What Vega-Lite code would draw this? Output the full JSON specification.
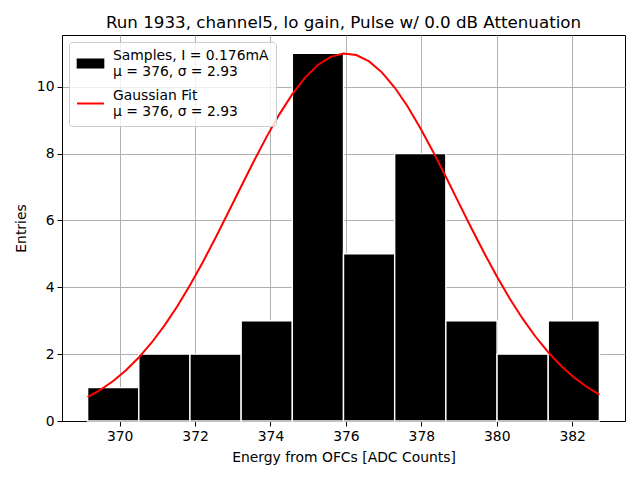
{
  "$schema": "https://vega.github.io/schema/vega-lite/v6.json",
  "autosize": "none",
  "width": 563,
  "height": 386,
  "padding": {"left": 62, "top": 35, "right": 15, "bottom": 59},
  "title": {
    "text": "Run 1933, channel5, lo gain, Pulse w/ 0.0 dB Attenuation",
    "font": "DejaVu Sans",
    "fontSize": 16.7,
    "fontWeight": "normal",
    "color": "black",
    "anchor": "middle",
    "offset": 3
  },
  "datasets": {
    "bars": [
      {"lo": 369.150, "hi": 370.507, "count": 1, "series": "Samples, I = 0.176mA|μ = 376, σ = 2.93"},
      {"lo": 370.507, "hi": 371.864, "count": 2, "series": "Samples, I = 0.176mA|μ = 376, σ = 2.93"},
      {"lo": 371.864, "hi": 373.222, "count": 2, "series": "Samples, I = 0.176mA|μ = 376, σ = 2.93"},
      {"lo": 373.222, "hi": 374.579, "count": 3, "series": "Samples, I = 0.176mA|μ = 376, σ = 2.93"},
      {"lo": 374.579, "hi": 375.936, "count": 11, "series": "Samples, I = 0.176mA|μ = 376, σ = 2.93"},
      {"lo": 375.936, "hi": 377.293, "count": 5, "series": "Samples, I = 0.176mA|μ = 376, σ = 2.93"},
      {"lo": 377.293, "hi": 378.650, "count": 8, "series": "Samples, I = 0.176mA|μ = 376, σ = 2.93"},
      {"lo": 378.650, "hi": 380.008, "count": 3, "series": "Samples, I = 0.176mA|μ = 376, σ = 2.93"},
      {"lo": 380.008, "hi": 381.365, "count": 2, "series": "Samples, I = 0.176mA|μ = 376, σ = 2.93"},
      {"lo": 381.365, "hi": 382.722, "count": 3, "series": "Samples, I = 0.176mA|μ = 376, σ = 2.93"}
    ],
    "fit": [
      {"x": 369.150, "y": 0.715, "series": "Gaussian Fit|μ = 376, σ = 2.93"},
      {"x": 369.489, "y": 0.932, "series": "Gaussian Fit|μ = 376, σ = 2.93"},
      {"x": 369.829, "y": 1.197, "series": "Gaussian Fit|μ = 376, σ = 2.93"},
      {"x": 370.168, "y": 1.517, "series": "Gaussian Fit|μ = 376, σ = 2.93"},
      {"x": 370.507, "y": 1.898, "series": "Gaussian Fit|μ = 376, σ = 2.93"},
      {"x": 370.846, "y": 2.342, "series": "Gaussian Fit|μ = 376, σ = 2.93"},
      {"x": 371.186, "y": 2.853, "series": "Gaussian Fit|μ = 376, σ = 2.93"},
      {"x": 371.525, "y": 3.427, "series": "Gaussian Fit|μ = 376, σ = 2.93"},
      {"x": 371.864, "y": 4.061, "series": "Gaussian Fit|μ = 376, σ = 2.93"},
      {"x": 372.204, "y": 4.752, "series": "Gaussian Fit|μ = 376, σ = 2.93"},
      {"x": 372.543, "y": 5.485, "series": "Gaussian Fit|μ = 376, σ = 2.93"},
      {"x": 372.882, "y": 6.245, "series": "Gaussian Fit|μ = 376, σ = 2.93"},
      {"x": 373.222, "y": 7.018, "series": "Gaussian Fit|μ = 376, σ = 2.93"},
      {"x": 373.561, "y": 7.778, "series": "Gaussian Fit|μ = 376, σ = 2.93"},
      {"x": 373.900, "y": 8.509, "series": "Gaussian Fit|μ = 376, σ = 2.93"},
      {"x": 374.239, "y": 9.183, "series": "Gaussian Fit|μ = 376, σ = 2.93"},
      {"x": 374.579, "y": 9.780, "series": "Gaussian Fit|μ = 376, σ = 2.93"},
      {"x": 374.918, "y": 10.275, "series": "Gaussian Fit|μ = 376, σ = 2.93"},
      {"x": 375.257, "y": 10.652, "series": "Gaussian Fit|μ = 376, σ = 2.93"},
      {"x": 375.597, "y": 10.896, "series": "Gaussian Fit|μ = 376, σ = 2.93"},
      {"x": 375.936, "y": 10.997, "series": "Gaussian Fit|μ = 376, σ = 2.93"},
      {"x": 376.275, "y": 10.952, "series": "Gaussian Fit|μ = 376, σ = 2.93"},
      {"x": 376.615, "y": 10.760, "series": "Gaussian Fit|μ = 376, σ = 2.93"},
      {"x": 376.954, "y": 10.432, "series": "Gaussian Fit|μ = 376, σ = 2.93"},
      {"x": 377.293, "y": 9.979, "series": "Gaussian Fit|μ = 376, σ = 2.93"},
      {"x": 377.633, "y": 9.418, "series": "Gaussian Fit|μ = 376, σ = 2.93"},
      {"x": 377.972, "y": 8.770, "series": "Gaussian Fit|μ = 376, σ = 2.93"},
      {"x": 378.311, "y": 8.059, "series": "Gaussian Fit|μ = 376, σ = 2.93"},
      {"x": 378.650, "y": 7.307, "series": "Gaussian Fit|μ = 376, σ = 2.93"},
      {"x": 378.990, "y": 6.535, "series": "Gaussian Fit|μ = 376, σ = 2.93"},
      {"x": 379.329, "y": 5.768, "series": "Gaussian Fit|μ = 376, σ = 2.93"},
      {"x": 379.668, "y": 5.025, "series": "Gaussian Fit|μ = 376, σ = 2.93"},
      {"x": 380.008, "y": 4.316, "series": "Gaussian Fit|μ = 376, σ = 2.93"},
      {"x": 380.347, "y": 3.660, "series": "Gaussian Fit|μ = 376, σ = 2.93"},
      {"x": 380.686, "y": 3.062, "series": "Gaussian Fit|μ = 376, σ = 2.93"},
      {"x": 381.025, "y": 2.528, "series": "Gaussian Fit|μ = 376, σ = 2.93"},
      {"x": 381.365, "y": 2.058, "series": "Gaussian Fit|μ = 376, σ = 2.93"},
      {"x": 381.704, "y": 1.653, "series": "Gaussian Fit|μ = 376, σ = 2.93"},
      {"x": 382.043, "y": 1.311, "series": "Gaussian Fit|μ = 376, σ = 2.93"},
      {"x": 382.383, "y": 1.025, "series": "Gaussian Fit|μ = 376, σ = 2.93"},
      {"x": 382.722, "y": 0.792, "series": "Gaussian Fit|μ = 376, σ = 2.93"}
    ]
  },
  "encoding": {
    "color": {
      "field": "series",
      "type": "nominal",
      "scale": {
        "domain": ["Samples, I = 0.176mA|μ = 376, σ = 2.93", "Gaussian Fit|μ = 376, σ = 2.93"],
        "range": ["black", "red"]
      },
      "legend": {
        "title": null,
        "orient": "top-left",
        "offset": 7,
        "padding": 7,
        "fillColor": "rgba(255,255,255,0.8)",
        "strokeColor": "#cccccc",
        "cornerRadius": 3,
        "symbolSize": 729,
        "labelOffset": 8,
        "labelFont": "DejaVu Sans",
        "labelFontSize": 13.9,
        "labelColor": "black",
        "labelLimit": 400,
        "rowPadding": 9,
        "labelExpr": "split(datum.label, '|')",
        "encode": {
          "labels": {"update": {"lineHeight": {"value": 16}, "dy": {"value": -8}}},
          "symbols": {
            "update": {
              "shape": {"signal": "indexof(datum.value, 'Gaussian') >= 0 ? 'M-1,0H1' : 'M-0.95,-0.3H0.95V0.3H-0.95Z'"},
              "fill": {"signal": "indexof(datum.value, 'Gaussian') >= 0 ? 'transparent' : 'black'"},
              "stroke": {"signal": "indexof(datum.value, 'Gaussian') >= 0 ? 'red' : 'black'"},
              "strokeWidth": {"value": 2},
              "opacity": {"value": 1}
            }
          }
        }
      }
    }
  },
  "layer": [
    {
      "data": {"name": "bars"},
      "mark": {"type": "bar", "stroke": "white", "strokeWidth": 1.4},
      "encoding": {
        "x": {"field": "lo", "type": "quantitative"},
        "x2": {"field": "hi"},
        "y": {"field": "count", "type": "quantitative"},
        "y2": {"datum": 0}
      }
    },
    {
      "data": {"name": "fit"},
      "mark": {"type": "line", "strokeWidth": 2},
      "encoding": {
        "x": {
          "field": "x",
          "type": "quantitative",
          "title": "Energy from OFCs [ADC Counts]",
          "scale": {"domain": [368.471, 383.401], "nice": false, "zero": false},
          "axis": {"values": [370, 372, 374, 376, 378, 380, 382]}
        },
        "y": {
          "field": "y",
          "type": "quantitative",
          "title": "Entries",
          "scale": {"domain": [0, 11.55], "nice": false},
          "axis": {"values": [0, 2, 4, 6, 8, 10]}
        }
      }
    }
  ],
  "config": {
    "view": {"stroke": "black", "strokeWidth": 1},
    "axis": {
      "zindex": 1,
      "grid": true,
      "gridColor": "#b0b0b0",
      "gridWidth": 1,
      "gridOpacity": 1,
      "domainColor": "black",
      "domainWidth": 1,
      "tickColor": "black",
      "tickSize": 5,
      "tickWidth": 1,
      "labelFont": "DejaVu Sans",
      "labelFontSize": 13.9,
      "labelColor": "black",
      "labelPadding": 3,
      "labelFlush": false,
      "titleFont": "DejaVu Sans",
      "titleFontSize": 13.9,
      "titleFontWeight": "normal",
      "titleColor": "black"
    },
    "axisX": {"titlePadding": 8},
    "axisY": {"titlePadding": 8, "labelAngle": 0}
  }
}
